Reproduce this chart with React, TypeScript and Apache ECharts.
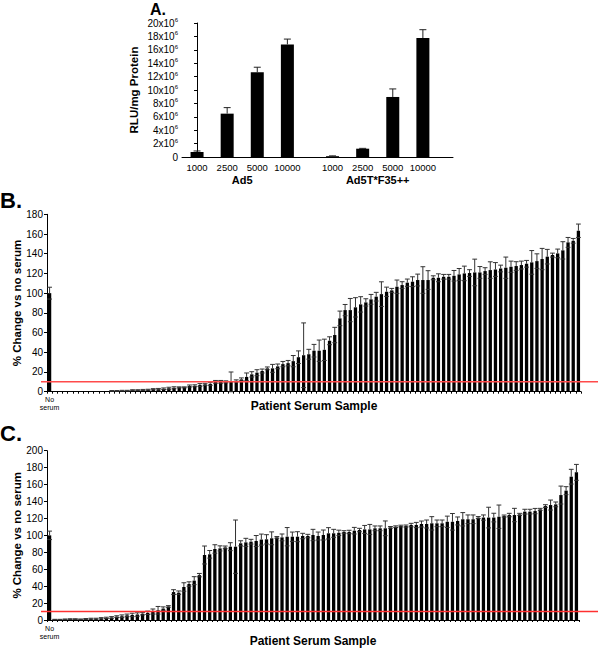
import React, { useEffect, useRef } from 'react';
import * as echarts from 'echarts';

// ---------- Panel A ----------
const doseLabels = ['1000', '2500', '5000', '10000'];
const vectorNames = ['Ad5', 'Ad5T*F35++'];
// RLU/mg protein, in units of 10^6
const ad5Mean = [0.75, 6.47, 12.64, 16.8];
const ad5Err = [0.15, 0.9, 0.76, 0.8];
const ad5tMean = [0.12, 1.24, 8.96, 17.76];
const ad5tErr = [0.05, 0.05, 1.2, 1.24];
const barPositions = [0, 1, 2, 3, 4.5, 5.5, 6.5, 7.5];
const groupCenters = [1.5, 6];

// ---------- Panel B (% change vs no serum) ----------
const panelBValues = [
  100,
  0, 0, 0, 0, 0, 0, 0, 0, 0, 0, 0,
  0.8, 0.8, 1, 1,
  1.5, 1.5, 1.8, 2,
  2.5, 2.5, 3, 3.5, 4,
  4.4, 4.4, 5.8, 6, 6.8, 7.5, 8, 10, 10, 10, 10, 11, 12.5, 15, 17.6, 19.3, 21, 23.7, 23.7, 25.7, 28, 29, 31, 35, 37, 38, 41.6,
  41.6, 42.5, 51.7, 57.5, 74.4, 82.8, 82.8, 85.6, 88.6, 90.6, 93.7, 96.4, 99, 101.4, 102.8, 106.5, 108.2, 110.6, 111.6, 113.3, 113.3, 113.3, 115.6, 115.6, 116.6,
  116.6,
  117.6, 119, 120, 120.4, 121, 121, 122.4, 123.4, 124, 125, 125.8, 126.8, 127.5, 128.5, 129.8, 131.2, 132.5, 134.6, 137, 138.6, 140.3, 143.4, 151.5, 153.1, 163.3,
];
const panelBErrors = [
  6,
  0, 0, 0, 0, 0, 0, 0, 0, 0, 0, 0,
  0.4, 0.4, 0.4, 0.4, 0.5, 0.5, 0.5, 0.5, 0.6, 0.8, 0.8, 1, 1,
  0.5, 0.5, 1, 1, 1.4, 1, 1.5, 1.4, 1.4, 1, 10, 1, 1.5, 4, 2.7, 3, 2, 1.4, 4, 2.4, 2.7, 2.7, 5.7, 6.4, 32.8, 5, 6.4,
  10.8, 10.8, 4, 7.8, 7.4, 5.7, 11.8, 9.8, 7.8, 3.7, 5, 4.4, 12.5, 4.7, 2, 6.8, 3.4, 3.7, 5, 6, 13.5, 9.5, 2, 4, 2.4, 2.4,
  5.4, 6, 7.4, 3.4, 13.5, 6, 3.4, 8.4, 7, 3.4, 10.8, 5.7, 4.4, 4, 3.4, 12, 7.4, 10.8, 7.4, 2, 4.4, 8.8, 5, 2.4, 6.8,
];

// ---------- Panel C ----------
const panelCValues = [
  100,
  0.5, 0.5, 0.8, 1, 1, 0.8, 1.2, 1.5, 1.5, 2, 2.5, 3, 4, 4.5, 5.5, 6, 6.5, 7.5, 8.5, 10, 11.5, 13.5, 16,
  33, 32.3, 39, 42.5, 46.5, 53, 76.8, 77.6, 83.9, 84.6, 85.8, 86.6, 86.6, 90.6, 91.7, 92.5, 93.3, 95, 95.3, 96.5, 97.6, 97.6, 98.4, 98.4, 98.4, 99.2, 99.2, 100.4,
  99.2, 100.4, 102.4, 102.4, 103, 104, 104, 105.5, 106.3, 107, 107, 108.3, 108.3, 108.3, 109.4, 110.2, 111, 111, 112.2, 112.2, 113.4, 113.4, 114.2, 114.2, 114.2, 116,
  116, 117, 119, 119, 119, 121, 121, 121, 121, 122, 122.8, 124, 124, 124.8, 128, 128, 128.7, 130.7, 134.6, 135.8, 136.6, 147.6, 152.8, 169.3, 174.4,
];
const panelCErrors = [
  5,
  0.3, 0.3, 0.4, 0.5, 0.5, 0.4, 0.5, 0.6, 0.6, 0.8, 0.8, 1, 1, 1.5, 1.5, 2, 2, 1.5, 2, 3, 4.5, 2, 1,
  2.8, 2, 5, 2.6, 4.7, 2, 10.6, 4.5, 5, 3, 1.6, 4.7, 31.5, 3, 4.8, 2.8, 6.5, 6.5, 5.5, 7.6, 1, 4, 10.8, 5.5, 5.9, 3.2, 2, 6.7,
  4.7, 5.9, 6.7, 4.7, 3.1, 1.5, 2, 3.9, 2, 4.7, 5.9, 2.8, 2.8, 8.7, 1, 1, 1, 1.2, 2, 3.1, 3.5, 4.7, 7.9, 3.9, 3.9, 6.7,
  9.8, 4.7, 7.9, 5.1, 5.1, 1.2, 3.1, 12.2, 5.1, 13.8, 1.2, 2, 7.9, 1.2, 2.8, 2.8, 3.1, 1.2, 1.6, 5.9, 2.8, 10.6, 4.7, 8.7, 9.4,
];
const sampleLabels = panelBValues.map((_, i) => (i === 0 ? 'No serum' : `Patient ${i}`));
const cutoffPercent = 10;

const FONT = '"Liberation Sans", Arial, sans-serif';

function errorRenderer(capHalf: number, lowerCap: boolean, color: string) {
  return (_params: any, api: any) => {
    const x = api.value(0);
    const v = api.value(1);
    const e = api.value(2);
    if (!e) return null;
    const base = api.coord([x, v]);
    const top = api.coord([x, v + e]);
    const bot = api.coord([x, Math.max(0, v - e)]);
    const style = { stroke: color, lineWidth: 1 };
    const children: any[] = [
      { type: 'line', shape: { x1: top[0], y1: top[1], x2: base[0], y2: base[1] }, style },
      { type: 'line', shape: { x1: top[0] - capHalf, y1: top[1], x2: top[0] + capHalf, y2: top[1] }, style },
    ];
    if (lowerCap) {
      children.push({ type: 'line', shape: { x1: bot[0] - capHalf, y1: bot[1], x2: bot[0] + capHalf, y2: bot[1] }, style });
    }
    return { type: 'group', children };
  };
}

export default function App() {
  const ref = useRef<HTMLDivElement>(null);
  useEffect(() => {
    if (!ref.current) return;
    const chart = echarts.init(ref.current, undefined, { renderer: 'svg' });

    const aMeans = [...ad5Mean, ...ad5tMean];
    const aErrs = [...ad5Err, ...ad5tErr];
    const aDoseText = [...doseLabels, ...doseLabels];

    const yAxisCommon = {
      type: 'value',
      axisLine: { show: true, lineStyle: { color: '#000', width: 1 } },
      axisTick: { show: true, length: 3, lineStyle: { color: '#000' } },
      splitLine: { show: false },
      axisLabel: { color: '#000', fontSize: 10, fontFamily: FONT, margin: 4 },
      nameLocation: 'middle',
      nameMoveOverlap: false,
      nameTextStyle: { color: '#000', fontSize: 11.5, fontWeight: 'bold', fontFamily: FONT },
    };

    const titles = [
      { type: 'text', left: 150, top: 1, style: { text: 'A.', font: `bold 16px ${FONT}`, fill: '#000' } },
      { type: 'text', left: 0, top: 189, style: { text: 'B.', font: `bold 22px ${FONT}`, fill: '#000' } },
      { type: 'text', left: 0, top: 422, style: { text: 'C.', font: `bold 22px ${FONT}`, fill: '#000' } },
    ];

    const patientAxis = (gridIndex: number, nameGap: number) => ({
      gridIndex, type: 'category', data: sampleLabels,
      axisLine: { show: true, lineStyle: { color: '#000' } },
      axisTick: { show: true, length: 2, interval: 0, lineStyle: { color: '#000' } },
      axisLabel: {
        interval: 0, formatter: (_v: string, i: number) => (i === 0 ? 'No\nserum' : ''),
        fontSize: 7, lineHeight: 8, color: '#000', margin: 4, fontFamily: FONT,
      },
      name: 'Patient Serum Sample', nameLocation: 'middle', nameGap, nameMoveOverlap: false,
      nameTextStyle: { color: '#000', fontSize: 12, fontWeight: 'bold', fontFamily: FONT },
    });

    chart.setOption({
      animation: false,
      backgroundColor: '#fff',
      textStyle: { fontFamily: FONT },
      grid: [
        { left: 182, top: 23, width: 271, height: 134 },
        { left: 47, top: 214.3, width: 534, height: 177.4 },
        { left: 47, top: 450.7, width: 532, height: 169.3 },
      ],
      xAxis: [
        {
          gridIndex: 0, type: 'value', min: -0.5, max: 8.5,
          axisLine: { show: true, onZero: false, lineStyle: { color: '#000' } },
          axisTick: { show: false },
          splitLine: { show: false },
          axisLabel: {
            customValues: barPositions,
            formatter: (v: number) => aDoseText[barPositions.indexOf(v)] ?? '',
            color: '#000', fontSize: 9.5, fontFamily: FONT, margin: 5,
          },
        },
        {
          gridIndex: 0, type: 'value', min: -0.5, max: 8.5, position: 'bottom', offset: 0,
          axisLine: { show: false }, axisTick: { show: false }, splitLine: { show: false },
          axisLabel: {
            customValues: groupCenters,
            formatter: (v: number) => vectorNames[groupCenters.indexOf(v)] ?? '',
            color: '#000', fontSize: 11, fontWeight: 'bold', fontFamily: FONT, margin: 17,
          },
        },
        patientAxis(1, 8),
        patientAxis(2, 15),
      ],
      yAxis: [
        {
          ...yAxisCommon, gridIndex: 0, min: 0, max: 20, interval: 2,
          axisLabel: {
            ...yAxisCommon.axisLabel, lineHeight: 12,
            formatter: (v: number) => (v === 0 ? '0' : `${v}x10{s|6}`),
            rich: { s: { fontSize: 6, verticalAlign: 'top', lineHeight: 8, fontFamily: FONT, color: '#000' } },
          },
          name: 'RLU/mg Protein', nameGap: 42,
        },
        { ...yAxisCommon, gridIndex: 1, min: 0, max: 180, interval: 20, name: '% Change vs no serum', nameGap: 24 },
        { ...yAxisCommon, gridIndex: 2, min: 0, max: 200, interval: 20, name: '% Change vs no serum', nameGap: 24 },
      ],
      series: [
        {
          type: 'bar', xAxisIndex: 0, yAxisIndex: 0, barWidth: 13,
          itemStyle: { color: '#000' },
          data: barPositions.map((p, i) => [p, aMeans[i]]),
        },
        {
          type: 'custom', xAxisIndex: 0, yAxisIndex: 0,
          renderItem: errorRenderer(3.5, false, '#222'),
          data: barPositions.map((p, i) => [p, aMeans[i], aErrs[i]]),
          z: 3,
        },
        {
          type: 'bar', xAxisIndex: 2, yAxisIndex: 1, barWidth: 3.3,
          itemStyle: { color: '#000' }, data: panelBValues,
        },
        {
          type: 'custom', xAxisIndex: 2, yAxisIndex: 1,
          renderItem: errorRenderer(2.4, true, '#333'),
          data: panelBValues.map((v, i) => [i, v, panelBErrors[i]]),
          z: 3,
        },
        {
          type: 'bar', xAxisIndex: 3, yAxisIndex: 2, barWidth: 3.3,
          itemStyle: { color: '#000' }, data: panelCValues,
        },
        {
          type: 'custom', xAxisIndex: 3, yAxisIndex: 2,
          renderItem: errorRenderer(2.4, true, '#333'),
          data: panelCValues.map((v, i) => [i, v, panelCErrors[i]]),
          z: 3,
        },
      ],
      graphic: titles,
    });

    const yB = chart.convertToPixel({ yAxisIndex: 1 }, cutoffPercent) as number;
    const yC = chart.convertToPixel({ yAxisIndex: 2 }, cutoffPercent) as number;
    chart.setOption({
      graphic: [
        ...titles,
        { type: 'line', z: 100, shape: { x1: 41, y1: yB, x2: 598, y2: yB }, style: { stroke: '#ff4a4a', lineWidth: 1.5 } },
        { type: 'line', z: 100, shape: { x1: 41, y1: yC, x2: 598, y2: yC }, style: { stroke: '#ff3030', lineWidth: 1.5 } },
      ],
    });

    return () => chart.dispose();
  }, []);

  return <div ref={ref} style={{ position: 'fixed', left: 0, top: 0, width: 600, height: 649, background: '#fff' }} />;
}
